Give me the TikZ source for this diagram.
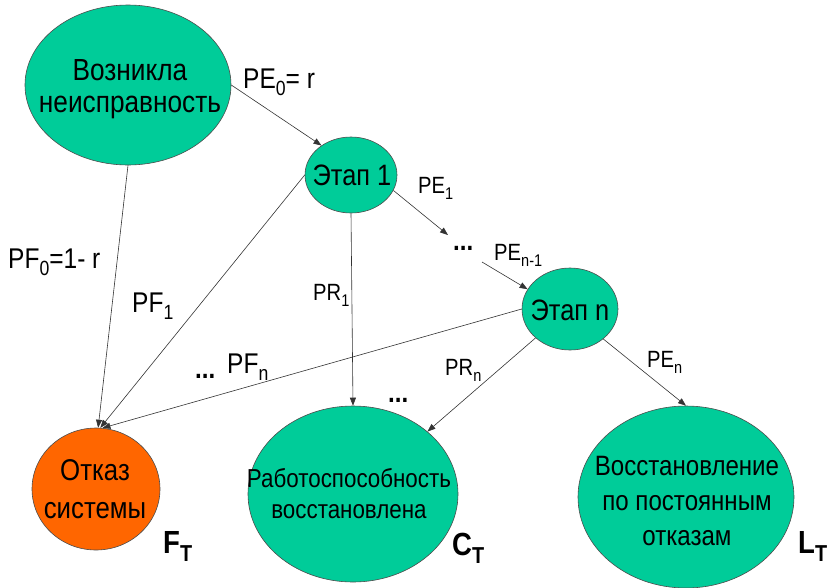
\documentclass[tikz,border=0pt]{standalone}
\usepackage{fontspec}
\setmainfont{Liberation Sans}
\newfontfamily\narrowsans[FakeStretch=0.86]{Liberation Sans}
\usetikzlibrary{shapes.geometric,arrows.meta}

\definecolor{stategreen}{RGB}{0,204,153}
\definecolor{failorange}{RGB}{255,102,0}

% lowered, reduced subscript
\newcommand{\lsub}[1]{\raisebox{-0.28em}{\scalebox{0.72}{#1}}}

\begin{document}
\begin{tikzpicture}[x=1pt,y=-1pt,
  statebox/.style={ellipse, draw=black!70, line width=0.6pt, fill=stategreen,
    inner sep=0pt},
  failbox/.style={statebox, fill=failorange},
  intext/.style={align=center, inner sep=0pt, anchor=base},
  lbl/.style={anchor=base west, inner sep=0pt, font=\narrowsans\fontsize{23.5}{26}\selectfont},
  biglbl/.style={lbl, font=\narrowsans\fontsize{28.5}{30}\selectfont},
  dotlbl/.style={lbl, font=\narrowsans\bfseries\fontsize{28}{30}\selectfont},
  setlbl/.style={lbl, font=\narrowsans\bfseries\fontsize{32}{34}\selectfont},
  flow/.style={draw=black!80, line width=0.6pt,
    -{Triangle[length=8pt,width=6pt]}}
]
\useasboundingbox (0,0) rectangle (830,587);

% states (the text node is placed by the baseline of its last line)
\node[statebox, minimum width=206pt, minimum height=160pt] (voz) at (128,85) {};
\node[intext, font=\narrowsans\fontsize{30.5}{32}\selectfont] (voztext) at (130,112)
  {Возникла\\неисправность};

\node[statebox, minimum width=92pt, minimum height=76pt] (e1) at (351,175) {};
\node[intext, font=\narrowsans\fontsize{29.5}{32}\selectfont] (e1text) at (352,185) {Этап 1};

\node[statebox, minimum width=96pt, minimum height=82pt] (en) at (570,309) {};
\node[intext, font=\narrowsans\fontsize{29.5}{32}\selectfont] (entext) at (570,320) {Этап n};

\node[failbox, minimum width=128pt, minimum height=122pt] (ot) at (96,489) {};
\node[intext, font=\narrowsans\fontsize{30}{38}\selectfont] (ottext) at (95,518)
  {Отказ\\системы};

\node[statebox, minimum width=210pt, minimum height=176pt] (rc) at (353,494) {};
\node[intext, font=\narrowsans\fontsize{26}{31}\selectfont] (rctext) at (349,518)
  {Работоспособность\\восстановлена};

\node[statebox, minimum width=216pt, minimum height=182pt] (lr) at (686,497) {};
\node[intext, font=\narrowsans\fontsize{28}{35}\selectfont] (lrtext) at (687,545)
  {Восстановление\\по постоянным\\отказам};

% intermediate stages between stage 1 and stage n
\node[dotlbl] (dots1) at (453,250) {...};
\coordinate (d1in) at (448,235);
\coordinate (d1out) at (482,262);

% transitions
\draw[flow] (voz.east) -- (e1.135);
\draw[flow] (e1.-20) -- (d1in);
\draw[flow] (d1out) -- (en.155);
\draw[flow] (voz.south) -- (ot.88);
\draw[flow] (e1.west) -- (ot.86);
\draw[flow] (en.west) -- (ot.84);
\draw[flow] (e1.south) -- (rc.north);
\draw[flow] (en.-140) -- (rc.40);
\draw[flow] (en.-42) -- (lr.north);

% transition probabilities
\node[biglbl] (lpe0) at (243,88) {PE\lsub{0}= r};
\node[lbl] (lpe1) at (418,193) {PE\lsub{1}};
\node[lbl] (lpen1) at (494,260) {PE\lsub{n-1}};
\node[biglbl] (lpf0) at (8,268) {PF\lsub{0}=1- r};
\node[biglbl] (lpf1) at (132,312) {PF\lsub{1}};
\node[lbl] (lpr1) at (313,300) {PR\lsub{1}};
\node[dotlbl] (lpfdots) at (195,378) {...};
\node[biglbl] (lpfn) at (227,373) {PF\lsub{n}};
\node[dotlbl] (dots2) at (388,402) {...};
\node[lbl] (lprn) at (445,375) {PR\lsub{n}};
\node[lbl] (lpen) at (647,367) {PE\lsub{n}};

% outcome sets
\node[setlbl] (sf) at (163,553) {F\lsub{T}};
\node[setlbl] (sc) at (452,555) {C\lsub{T}};
\node[setlbl] (sl) at (798,553) {L\lsub{T}};
\end{tikzpicture}
\end{document}
